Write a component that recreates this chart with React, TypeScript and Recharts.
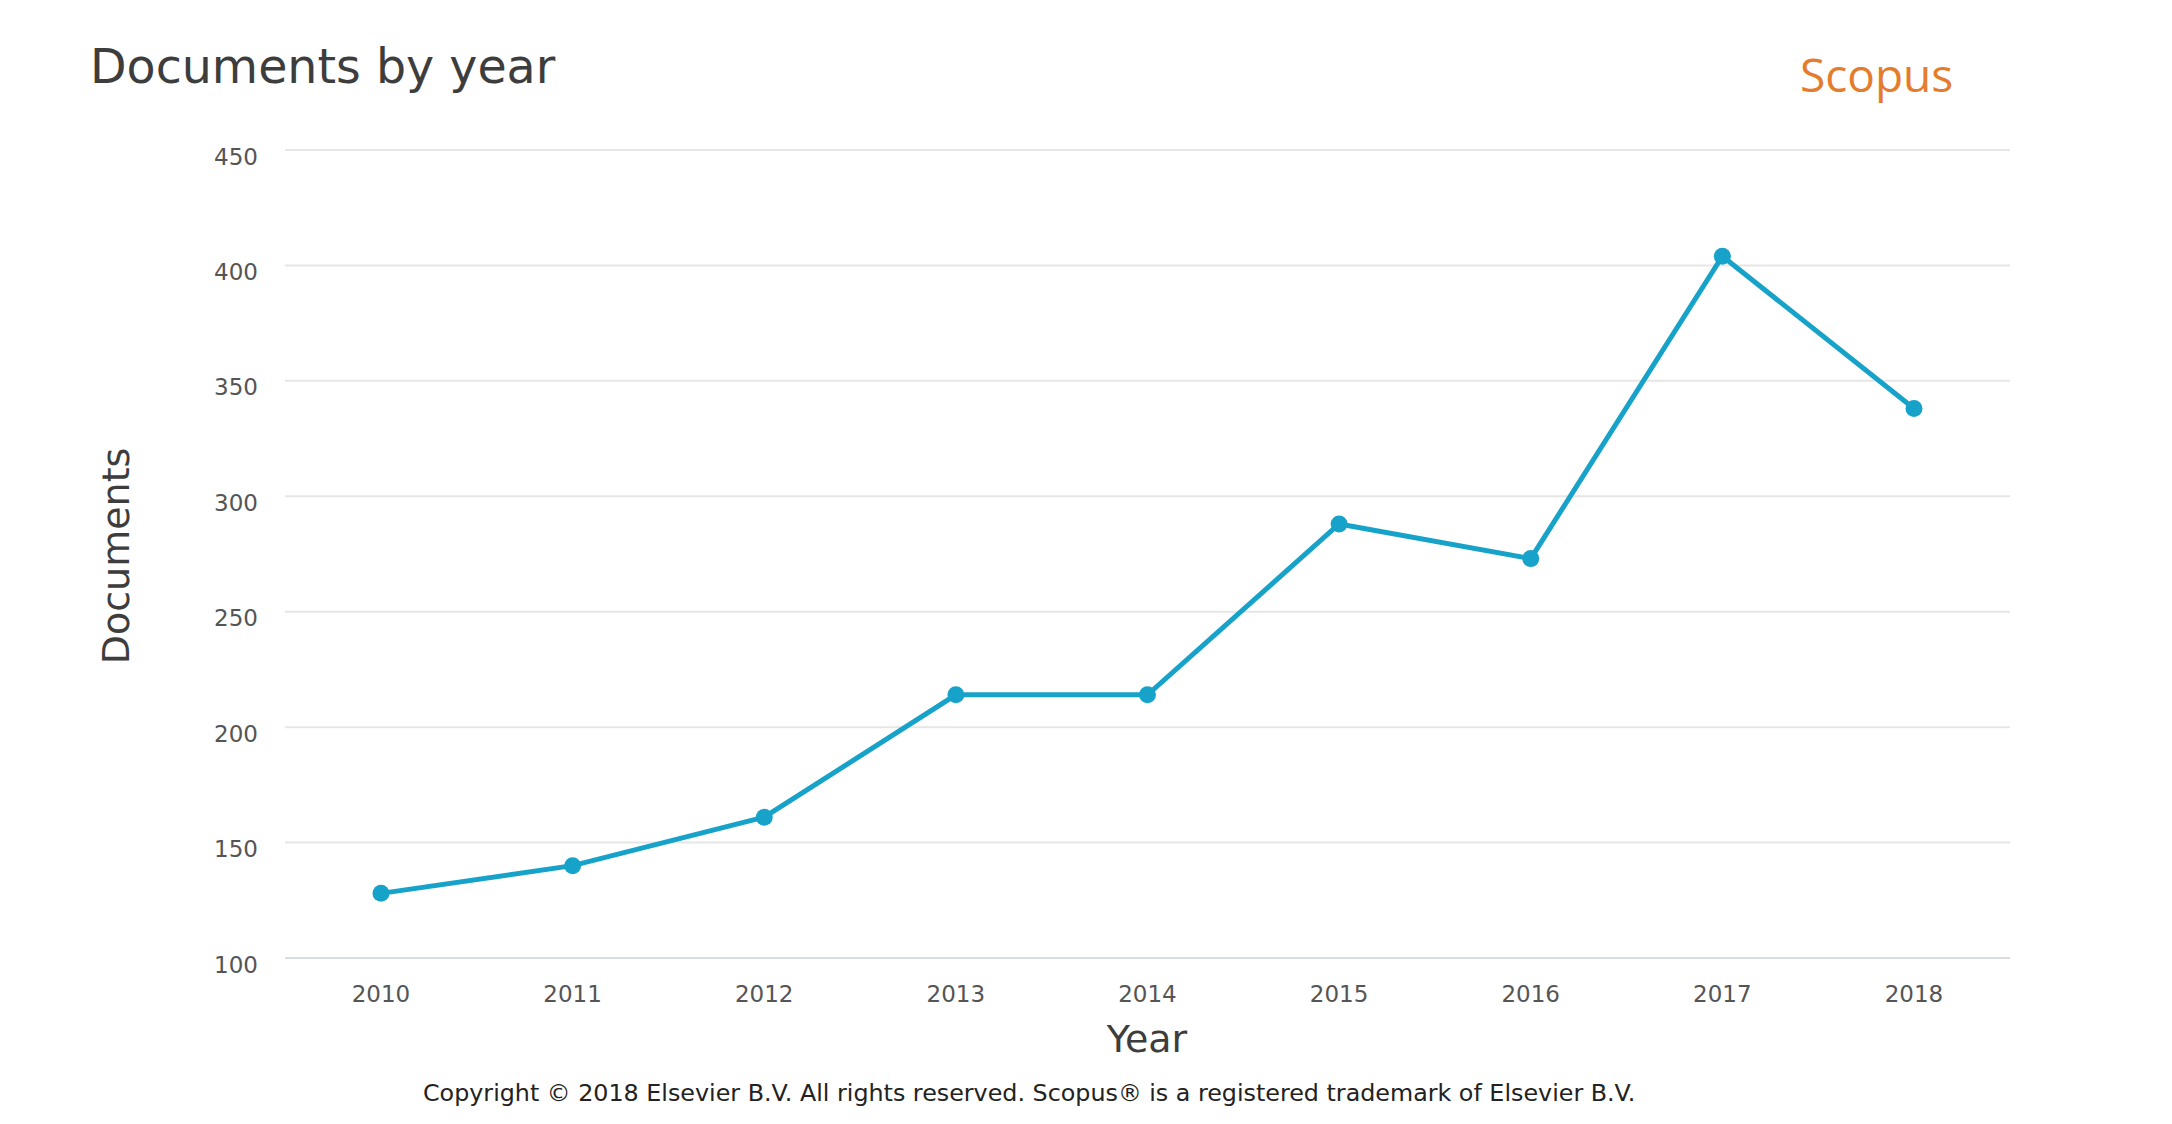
import { LineChart, Line, XAxis, YAxis, CartesianGrid } from 'recharts';

const years = ['2010', '2011', '2012', '2013', '2014', '2015', '2016', '2017', '2018'];
const documents = [128, 140, 161, 214, 214, 288, 273, 404, 338];
const yTicks = [100, 150, 200, 250, 300, 350, 400, 450];

const data = years.map((year, i) => ({ year, documents: documents[i] }));

const LINE_COLOR = '#17a3c9';
const FONT = '"DejaVu Sans", sans-serif';

const YTick = (props: any) => {
  const { x, y, payload } = props;
  return (
    <text x={x} y={y} dy={8} dominantBaseline="middle" textAnchor="end" fill="#555" fontSize={23} fontFamily={FONT}>
      {payload.value}
    </text>
  );
};

const XTick = (props: any) => {
  const { x, y, payload } = props;
  return (
    <text x={x} y={y} dominantBaseline="middle" textAnchor="middle" fill="#555" fontSize={23} fontFamily={FONT}>
      {payload.value}
    </text>
  );
};

export default function App() {
  return (
    <div style={{ position: 'absolute', left: 0, top: 0, width: 2172, height: 1124, background: '#fff', fontFamily: FONT }}>
      <div style={{ position: 'absolute', left: 90, top: 37, fontSize: 47.5, color: '#3d3d3d', lineHeight: '60px' }}>
        Documents by year
      </div>
      <div style={{ position: 'absolute', left: 1800, top: 44, fontSize: 46, color: '#e57c2d', lineHeight: '60px', fontFamily: '"Open Sans", sans-serif' }}>
        Scopus
      </div>
      <div
        style={{
          position: 'absolute',
          left: 116,
          top: 556,
          fontSize: 38,
          color: '#3d3d3d',
          transform: 'translate(-50%, -50%) rotate(-90deg)',
          whiteSpace: 'nowrap',
        }}
      >
        Documents
      </div>
      <div
        style={{
          position: 'absolute',
          left: 1147,
          top: 1039,
          fontSize: 38,
          color: '#3d3d3d',
          transform: 'translate(-50%, -50%)',
          whiteSpace: 'nowrap',
        }}
      >
        Year
      </div>
      <div
        style={{
          position: 'absolute',
          left: 423,
          top: 1093,
          fontSize: 23.8,
          color: '#222',
          transform: 'translateY(-50%)',
          whiteSpace: 'nowrap',
        }}
      >
        Copyright © 2018 Elsevier B.V. All rights reserved. Scopus® is a registered trademark of Elsevier B.V.
      </div>
      <LineChart
        width={2172}
        height={1124}
        data={data}
        margin={{ top: 150, right: 162, bottom: 0, left: 205 }}
        style={{ position: 'absolute', left: 0, top: 0 }}
      >
        <CartesianGrid vertical={false} stroke="#e6e6e6" strokeWidth={2} />
        <XAxis
          dataKey="year"
          padding={{ left: 96, right: 96 }}
          axisLine={{ stroke: '#d9dde3', strokeWidth: 2 }}
          tickLine={false}
          tickSize={0}
          tickMargin={37}
          tick={<XTick />}
          height={166}
          interval={0}
        />
        <YAxis
          domain={[100, 450]}
          ticks={yTicks}
          axisLine={false}
          tickLine={false}
          tickSize={0}
          tickMargin={27}
          tick={<YTick />}
          width={80}
        />
        <Line
          type="linear"
          dataKey="documents"
          stroke={LINE_COLOR}
          strokeWidth={5}
          dot={{ r: 8.5, fill: LINE_COLOR, stroke: LINE_COLOR, strokeWidth: 0 }}
          activeDot={false}
          isAnimationActive={false}
        />
      </LineChart>
    </div>
  );
}
